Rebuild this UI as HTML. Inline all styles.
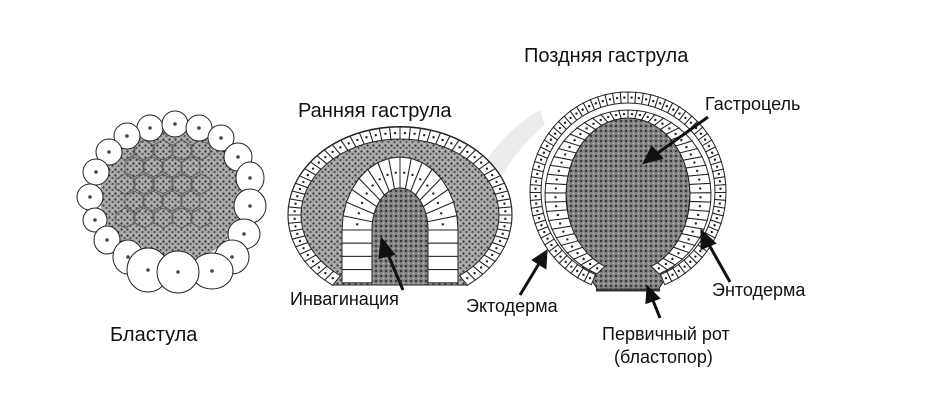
<!DOCTYPE html>
<html><head><meta charset="utf-8"><style>
html,body{margin:0;padding:0;background:#fff;}
svg{display:block}
text{font-family:"Liberation Sans","DejaVu Sans",sans-serif;fill:#111;}
</style></head><body>
<svg id="s" width="929" height="405" viewBox="0 0 929 405" xmlns="http://www.w3.org/2000/svg">
<defs>
<pattern id="st" width="6" height="6" patternUnits="userSpaceOnUse">
<rect width="6" height="6" fill="#a8a8a8"/>
<circle cx="1.5" cy="1.5" r="1.1" fill="#333"/><circle cx="4.5" cy="4" r="1" fill="#444"/><circle cx="4" cy="1" r="0.6" fill="#ddd"/>
</pattern>
<pattern id="st2" width="5" height="5" patternUnits="userSpaceOnUse">
<rect width="5" height="5" fill="#808080"/>
<circle cx="1" cy="1" r="1" fill="#222"/><circle cx="3.5" cy="3.5" r="0.9" fill="#bbb"/>
</pattern>
</defs>
<path d="M455 250 Q470 150 540 110 L545 125 Q490 170 478 250 Z" fill="#ececec"/>
<g id="g" stroke="#222" stroke-width="1"></g>
<g stroke="#111" stroke-width="3" fill="#111">
<line x1="403" y1="290" x2="387" y2="252"/><polygon points="382,240 393,254 380,257"/>
<line x1="708" y1="117" x2="655" y2="155"/><polygon points="645,162 652,148 661,158"/>
<line x1="520" y1="295" x2="540" y2="262"/><polygon points="546,252 545,267 534,260"/>
<line x1="730" y1="282" x2="708" y2="243"/><polygon points="702,232 714,243 702,248"/>
<line x1="660" y1="318" x2="652" y2="298"/><polygon points="648,288 658,298 647,302"/>
</g>
<text x="110" y="341" font-size="20">Бластула</text>
<text x="298" y="117" font-size="20">Ранняя гаструла</text>
<text x="524" y="62" font-size="20">Поздняя гаструла</text>
<text x="705" y="110" font-size="18">Гастроцель</text>
<text x="290" y="305" font-size="18">Инвагинация</text>
<text x="466" y="312" font-size="18">Эктодерма</text>
<text x="712" y="296" font-size="18">Энтодерма</text>
<text x="602" y="340" font-size="18">Первичный рот</text>
<text x="614" y="363" font-size="18">(бластопор)</text>
</svg>
<script>
var g=document.getElementById('g'),NS='http://www.w3.org/2000/svg';
function el(t,a){var e=document.createElementNS(NS,t);for(var k in a)e.setAttribute(k,a[k]);g.appendChild(e);return e;}
function pt(cx,cy,rx,ry,a){return [cx+rx*Math.cos(a),cy+ry*Math.sin(a)];}
function D(d){return d*Math.PI/180;}
function ring(cx,cy,rx1,ry1,rx2,ry2,a0,a1,n,fill){
 for(var i=0;i<n;i++){var a=a0+(a1-a0)*i/n,b=a0+(a1-a0)*(i+1)/n;
  var p1=pt(cx,cy,rx1,ry1,a),p2=pt(cx,cy,rx1,ry1,b),p3=pt(cx,cy,rx2,ry2,b),p4=pt(cx,cy,rx2,ry2,a);
  el('polygon',{points:[p1,p2,p3,p4].map(function(p){return p.join(',')}).join(' '),fill:fill||'#fff'});
  var m=pt(cx,cy,(rx1+rx2)/2,(ry1+ry2)/2,(a+b)/2);
  el('circle',{cx:m[0],cy:m[1],r:1.2,fill:'#222',stroke:'none'});}
}
// Blastula
el('ellipse',{cx:172,cy:195,rx:72,ry:68,fill:'url(#st)',stroke:'none'});
var cells=[[150,128,13,13],[175,124,13,13],[199,128,13,13],[127,136,13,13],[221,138,13,13],[109,152,13,13],[238,157,14,14],[96,172,13,13],[250,178,14,16],[90,197,13,13],[250,206,16,17],[95,220,12,12],[244,234,16,15],[107,240,13,14],[232,257,17,17],[128,257,15,17],[212,271,21,18],[148,270,21,22],[178,272,21,21]];
for(var r=0;r<5;r++)for(var c=0;c<5-(r%2);c++){var ox=125+c*19+(r%2)*9,oy=150+r*17;el('polygon',{points:[[0,-10],[9,-5],[9,5],[0,10],[-9,5],[-9,-5]].map(function(p){return (p[0]+ox)+','+(p[1]+oy)}).join(' '),fill:'url(#st)',stroke:'#555','stroke-width':0.8});}
cells.forEach(function(c){el('ellipse',{cx:c[0],cy:c[1],rx:c[2],ry:c[3],fill:'#fff'});el('circle',{cx:c[0],cy:c[1],r:1.8,fill:'#444',stroke:'none'});});
// Early gastrula
el('path',{d:'M333 285 A112 88 0 1 1 467 285 Z',fill:'url(#st)'});
ring(400,215,112,88,99,76,D(127),D(413),54);
el('line',{x1:333,y1:285,x2:467,y2:285});
ring(400,230,58,73,28,42,D(180),D(360),16);
for(var i=0;i<4;i++){el('rect',{x:342,y:230+i*13.2,width:30,height:13.2,fill:'#fff'});el('rect',{x:428,y:230+i*13.2,width:30,height:13.2,fill:'#fff'});}
el('path',{d:'M372 285 L372 230 A28 42 0 0 1 428 230 L428 285 Z',fill:'url(#st2)'});
// Late gastrula
el('path',{d:'M598 290 L572 250 L566 195 A62 77 0 1 1 690 195 L684 250 L658 290 Z',fill:'url(#st2)'});
ring(628,192,98,100,87,89,D(112),D(428),70);
ring(628,195,83,85,62,77,D(112),D(428),50);
el('line',{x1:596,y1:290,x2:660,y2:290,stroke:'#333','stroke-width':3});
</script>
</body></html>
